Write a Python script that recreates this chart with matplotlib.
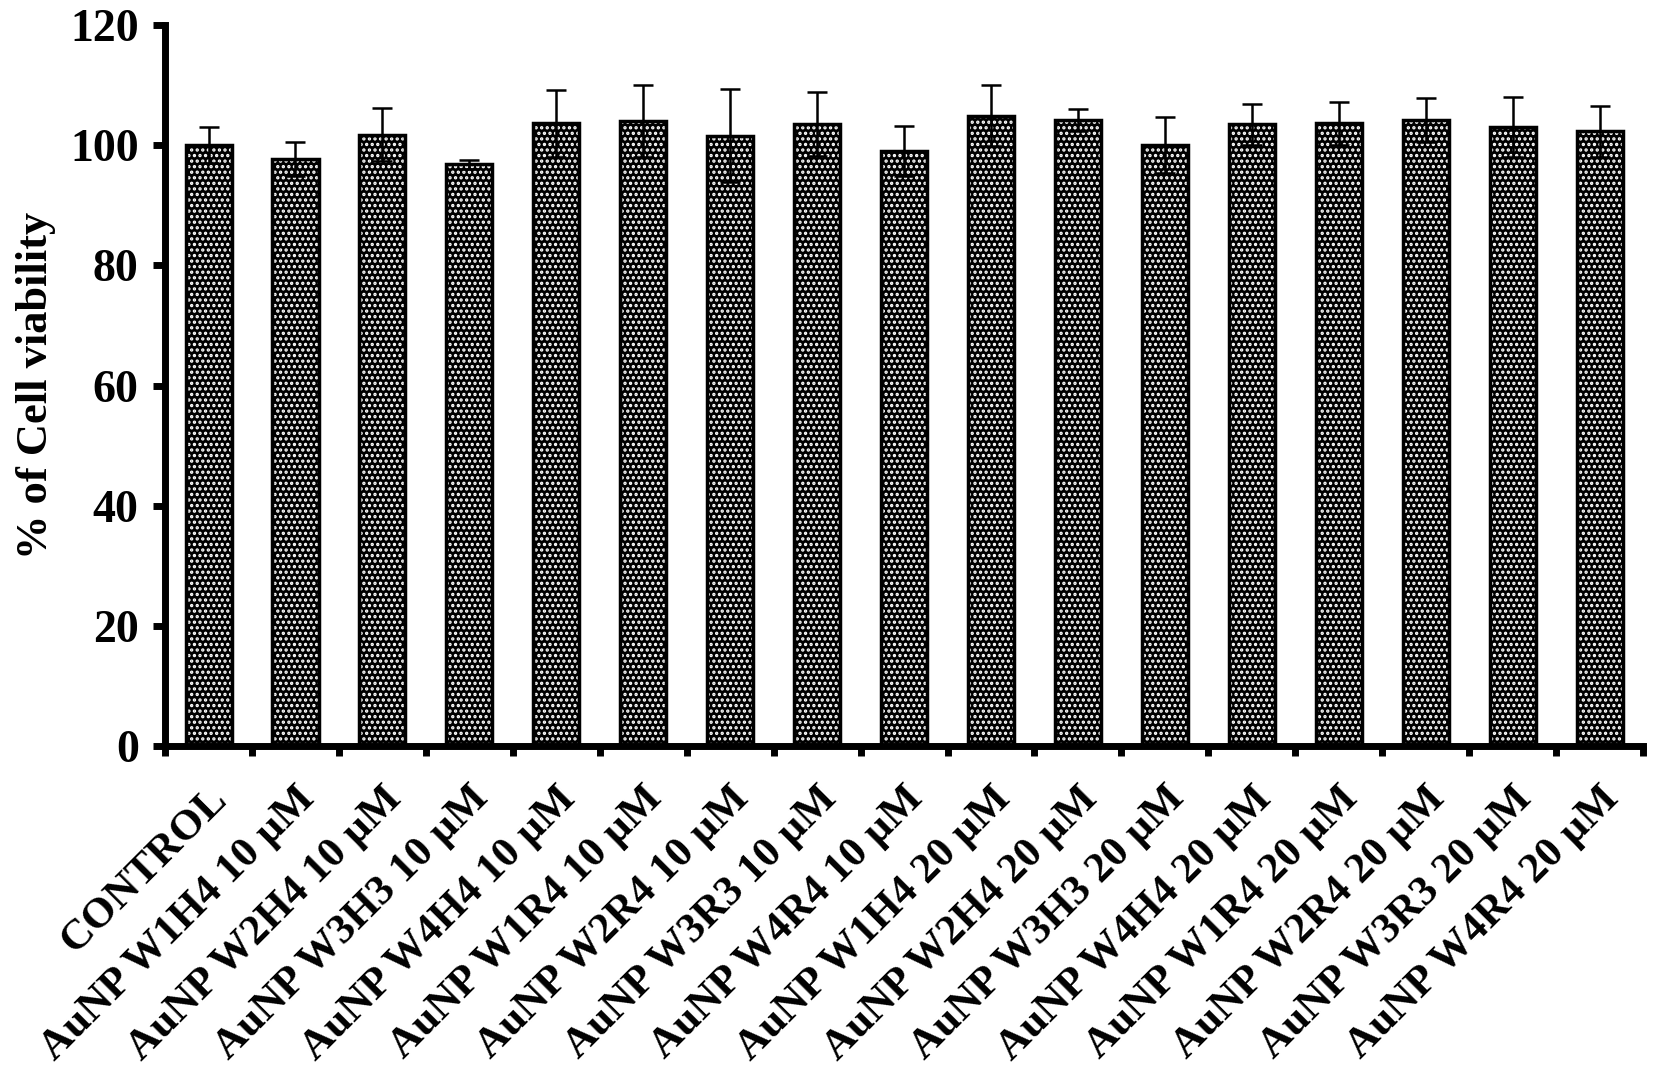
import matplotlib.pyplot as plt
import numpy as np

plt.rcParams['font.family'] = ['Liberation Serif', 'DejaVu Serif']
plt.rcParams['font.weight'] = 'bold'
plt.rcParams['hatch.linewidth'] = 1.6

labels = ['CONTROL',
          'AuNP W1H4 10 µM', 'AuNP W2H4 10 µM', 'AuNP W3H3 10 µM', 'AuNP W4H4 10 µM',
          'AuNP W1R4 10 µM', 'AuNP W2R4 10 µM', 'AuNP W3R3 10 µM', 'AuNP W4R4 10 µM',
          'AuNP W1H4 20 µM', 'AuNP W2H4 20 µM', 'AuNP W3H3 20 µM', 'AuNP W4H4 20 µM',
          'AuNP W1R4 20 µM', 'AuNP W2R4 20 µM', 'AuNP W3R3 20 µM', 'AuNP W4R4 20 µM']
viability = [100.0, 97.7, 101.7, 96.8, 103.6, 104.0, 101.6, 103.5, 99.0,
             104.9, 104.2, 100.0, 103.5, 103.6, 104.2, 103.0, 102.3]
sd = [3.0, 2.8, 4.4, 0.8, 5.6, 6.0, 7.7, 5.3, 4.2,
      5.1, 1.8, 4.7, 3.4, 3.6, 3.6, 5.0, 4.2]

fig = plt.figure(figsize=(16.54, 10.83), dpi=100)
ax = fig.add_axes([0.0998, 0.311, 0.8936, 0.666])

x = np.arange(len(labels))
# dotted fill: black face, white dots
ax.bar(x, viability, width=0.53, color='black', edgecolor='white', hatch='...', linewidth=0)
ax.bar(x, viability, width=0.53, color='none', edgecolor='black', linewidth=2.5)
ax.errorbar(x, viability, yerr=sd, fmt='none', ecolor='black', elinewidth=1.8,
            capsize=7.5, capthick=1.8)

ax.set_xlim(-0.5, len(labels) - 0.5)
ax.set_ylim(0, 120)
ax.set_yticks(range(0, 121, 20))
ax.set_xticks(x)
ax.set_xticklabels(labels, rotation=45, ha='right', rotation_mode='anchor', fontsize=31)
ax.set_xticks(np.arange(-0.5, len(labels), 1), minor=True)
ax.tick_params(axis='x', which='major', length=0, pad=24)
ax.tick_params(axis='x', which='minor', length=7, width=5, direction='out')
ax.tick_params(axis='y', length=9, width=5, labelsize=33, pad=10)

for s in ['top', 'right']:
    ax.spines[s].set_visible(False)
for s in ['left', 'bottom']:
    ax.spines[s].set_linewidth(5)

ax.set_ylabel('% of Cell viability', fontsize=32, fontweight='bold', labelpad=10)

fig.savefig('out.png', dpi=100)
